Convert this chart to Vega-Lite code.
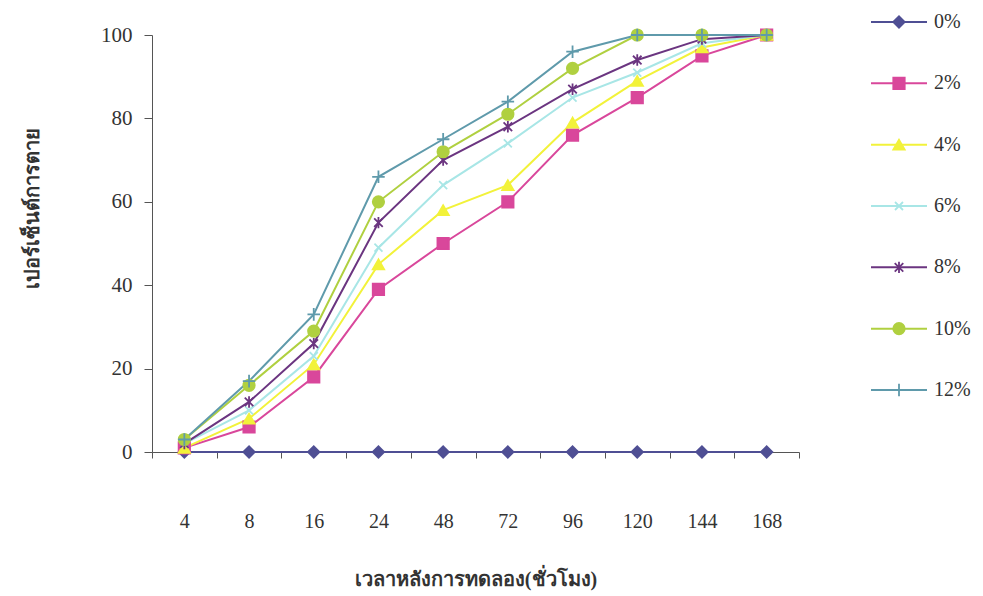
{
  "$schema": "https://vega.github.io/schema/vega-lite/v6.json",
  "background": "white",
  "padding": {"left": 22, "top": 12, "right": 5, "bottom": 5},
  "config": {
    "view": {"stroke": null},
    "font": "Liberation Serif",
    "concat": {"spacing": 72}
  },
  "bounds": "flush",
  "datasets": {
    "main": [
      {"hour": 4, "series": "0%", "value": 0}, {"hour": 8, "series": "0%", "value": 0}, {"hour": 16, "series": "0%", "value": 0}, {"hour": 24, "series": "0%", "value": 0}, {"hour": 48, "series": "0%", "value": 0}, {"hour": 72, "series": "0%", "value": 0}, {"hour": 96, "series": "0%", "value": 0}, {"hour": 120, "series": "0%", "value": 0}, {"hour": 144, "series": "0%", "value": 0}, {"hour": 168, "series": "0%", "value": 0},
      {"hour": 4, "series": "2%", "value": 1}, {"hour": 8, "series": "2%", "value": 6}, {"hour": 16, "series": "2%", "value": 18}, {"hour": 24, "series": "2%", "value": 39}, {"hour": 48, "series": "2%", "value": 50}, {"hour": 72, "series": "2%", "value": 60}, {"hour": 96, "series": "2%", "value": 76}, {"hour": 120, "series": "2%", "value": 85}, {"hour": 144, "series": "2%", "value": 95}, {"hour": 168, "series": "2%", "value": 100},
      {"hour": 4, "series": "4%", "value": 1}, {"hour": 8, "series": "4%", "value": 8}, {"hour": 16, "series": "4%", "value": 21}, {"hour": 24, "series": "4%", "value": 45}, {"hour": 48, "series": "4%", "value": 58}, {"hour": 72, "series": "4%", "value": 64}, {"hour": 96, "series": "4%", "value": 79}, {"hour": 120, "series": "4%", "value": 89}, {"hour": 144, "series": "4%", "value": 97}, {"hour": 168, "series": "4%", "value": 100},
      {"hour": 4, "series": "6%", "value": 2}, {"hour": 8, "series": "6%", "value": 10}, {"hour": 16, "series": "6%", "value": 23}, {"hour": 24, "series": "6%", "value": 49}, {"hour": 48, "series": "6%", "value": 64}, {"hour": 72, "series": "6%", "value": 74}, {"hour": 96, "series": "6%", "value": 85}, {"hour": 120, "series": "6%", "value": 91}, {"hour": 144, "series": "6%", "value": 98}, {"hour": 168, "series": "6%", "value": 100},
      {"hour": 4, "series": "8%", "value": 2}, {"hour": 8, "series": "8%", "value": 12}, {"hour": 16, "series": "8%", "value": 26}, {"hour": 24, "series": "8%", "value": 55}, {"hour": 48, "series": "8%", "value": 70}, {"hour": 72, "series": "8%", "value": 78}, {"hour": 96, "series": "8%", "value": 87}, {"hour": 120, "series": "8%", "value": 94}, {"hour": 144, "series": "8%", "value": 99}, {"hour": 168, "series": "8%", "value": 100},
      {"hour": 4, "series": "10%", "value": 3}, {"hour": 8, "series": "10%", "value": 16}, {"hour": 16, "series": "10%", "value": 29}, {"hour": 24, "series": "10%", "value": 60}, {"hour": 48, "series": "10%", "value": 72}, {"hour": 72, "series": "10%", "value": 81}, {"hour": 96, "series": "10%", "value": 92}, {"hour": 120, "series": "10%", "value": 100}, {"hour": 144, "series": "10%", "value": 100}, {"hour": 168, "series": "10%", "value": 100},
      {"hour": 4, "series": "12%", "value": 3}, {"hour": 8, "series": "12%", "value": 17}, {"hour": 16, "series": "12%", "value": 33}, {"hour": 24, "series": "12%", "value": 66}, {"hour": 48, "series": "12%", "value": 75}, {"hour": 72, "series": "12%", "value": 84}, {"hour": 96, "series": "12%", "value": 96}, {"hour": 120, "series": "12%", "value": 100}, {"hour": 144, "series": "12%", "value": 100}, {"hour": 168, "series": "12%", "value": 100}
    ]
  },
  "hconcat": [
    {
      "width": 647,
      "height": 417,
      "data": {"name": "main"},
      "encoding": {
        "x": {
          "field": "hour", "type": "ordinal",
          "scale": {"type": "band", "paddingInner": 0, "paddingOuter": 0},
          "axis": {
            "title": "เวลาหลังการทดลอง(ชั่วโมง)",
            "labelAngle": 0, "tickBand": "extent", "tickSize": 6,
            "labelPadding": 53, "labelFontSize": 20, "labelColor": "#333",
            "domainColor": "#555", "tickColor": "#555",
            "titleFontSize": 20, "titleFontWeight": "bold", "titleColor": "#333", "titlePadding": 38
          }
        },
        "y": {
          "field": "value", "type": "quantitative",
          "scale": {"domain": [0, 100]},
          "axis": {
            "title": "เปอร์เซ็นต์การตาย",
            "values": [0, 20, 40, 60, 80, 100], "grid": false,
            "tickSize": 8, "labelPadding": 12, "labelFontSize": 21, "labelColor": "#333",
            "domainColor": "#555", "tickColor": "#555",
            "titleFontSize": 20, "titleFontWeight": "bold", "titleColor": "#333", "titlePadding": 58, "titleY": 173
          }
        }
      },
      "layer": [
        {
          "mark": {"type": "line", "strokeWidth": 2},
          "encoding": {
            "color": {
              "field": "series", "type": "nominal", "legend": null,
              "scale": {"domain": ["0%", "2%", "4%", "6%", "8%", "10%", "12%"], "range": ["#4F4F94", "#D9479B", "#F2F23A", "#A8E6E6", "#6B3580", "#B0D040", "#5F9AAB"]}
            }
          }
        },
        {
          "mark": {"type": "point", "filled": true, "opacity": 1, "size": 130, "strokeWidth": 1.8},
          "encoding": {
            "shape": {
              "field": "series", "type": "nominal", "legend": null,
              "scale": {"domain": ["0%", "2%", "4%", "6%", "8%", "10%", "12%"], "range": ["diamond", "square", "triangle-up", "M-0.7,-0.7L0.7,0.7M-0.7,0.7L0.7,-0.7", "M-0.75,-0.75L0.75,0.75M-0.75,0.75L0.75,-0.75M0,-1L0,1", "circle", "M-1.1,0L1.1,0M0,-1.1L0,1.1"]}
            },
            "fill": {
              "field": "series", "type": "nominal", "legend": null,
              "scale": {"domain": ["0%", "2%", "4%", "6%", "8%", "10%", "12%"], "range": ["#4F4F94", "#D9479B", "#F2F23A", "#A8E6E6", "#6B3580", "#B0D040", "#5F9AAB"]}
            },
            "stroke": {
              "field": "series", "type": "nominal", "legend": null,
              "scale": {"domain": ["0%", "2%", "4%", "6%", "8%", "10%", "12%"], "range": ["#4F4F94", "#D9479B", "#F2F23A", "#A8E6E6", "#6B3580", "#B0D040", "#5F9AAB"]}
            }
          }
        }
      ]
    },
    {
      "width": 56,
      "height": 368,
      "data": {"name": "main"},
      "transform": [{"filter": "datum.hour == 4"}],
      "encoding": {
        "y": {
          "field": "series", "type": "ordinal", "axis": null,
          "sort": ["0%", "2%", "4%", "6%", "8%", "10%", "12%"],
          "scale": {"type": "point", "padding": 0, "range": [-13, 355]}
        }
      },
      "layer": [
        {
          "mark": {"type": "rule", "strokeWidth": 2},
          "encoding": {
            "x": {"datum": 0, "type": "quantitative", "scale": {"domain": [0, 1]}, "axis": null},
            "x2": {"datum": 1},
            "color": {
              "field": "series", "type": "nominal", "legend": null,
              "scale": {"domain": ["0%", "2%", "4%", "6%", "8%", "10%", "12%"], "range": ["#4F4F94", "#D9479B", "#F2F23A", "#A8E6E6", "#6B3580", "#B0D040", "#5F9AAB"]}
            }
          }
        },
        {
          "mark": {"type": "point", "filled": true, "opacity": 1, "size": 130, "strokeWidth": 1.8},
          "encoding": {
            "x": {"datum": 0.5, "type": "quantitative", "scale": {"domain": [0, 1]}, "axis": null},
            "shape": {
              "field": "series", "type": "nominal", "legend": null,
              "scale": {"domain": ["0%", "2%", "4%", "6%", "8%", "10%", "12%"], "range": ["diamond", "square", "triangle-up", "M-0.7,-0.7L0.7,0.7M-0.7,0.7L0.7,-0.7", "M-0.75,-0.75L0.75,0.75M-0.75,0.75L0.75,-0.75M0,-1L0,1", "circle", "M-1.1,0L1.1,0M0,-1.1L0,1.1"]}
            },
            "fill": {
              "field": "series", "type": "nominal", "legend": null,
              "scale": {"domain": ["0%", "2%", "4%", "6%", "8%", "10%", "12%"], "range": ["#4F4F94", "#D9479B", "#F2F23A", "#A8E6E6", "#6B3580", "#B0D040", "#5F9AAB"]}
            },
            "stroke": {
              "field": "series", "type": "nominal", "legend": null,
              "scale": {"domain": ["0%", "2%", "4%", "6%", "8%", "10%", "12%"], "range": ["#4F4F94", "#D9479B", "#F2F23A", "#A8E6E6", "#6B3580", "#B0D040", "#5F9AAB"]}
            }
          }
        },
        {
          "mark": {"type": "text", "align": "left", "baseline": "middle", "dx": 7, "fontSize": 20, "color": "#333"},
          "encoding": {
            "x": {"datum": 1, "type": "quantitative", "scale": {"domain": [0, 1]}, "axis": null},
            "text": {"field": "series", "type": "nominal"}
          }
        }
      ]
    }
  ]
}
